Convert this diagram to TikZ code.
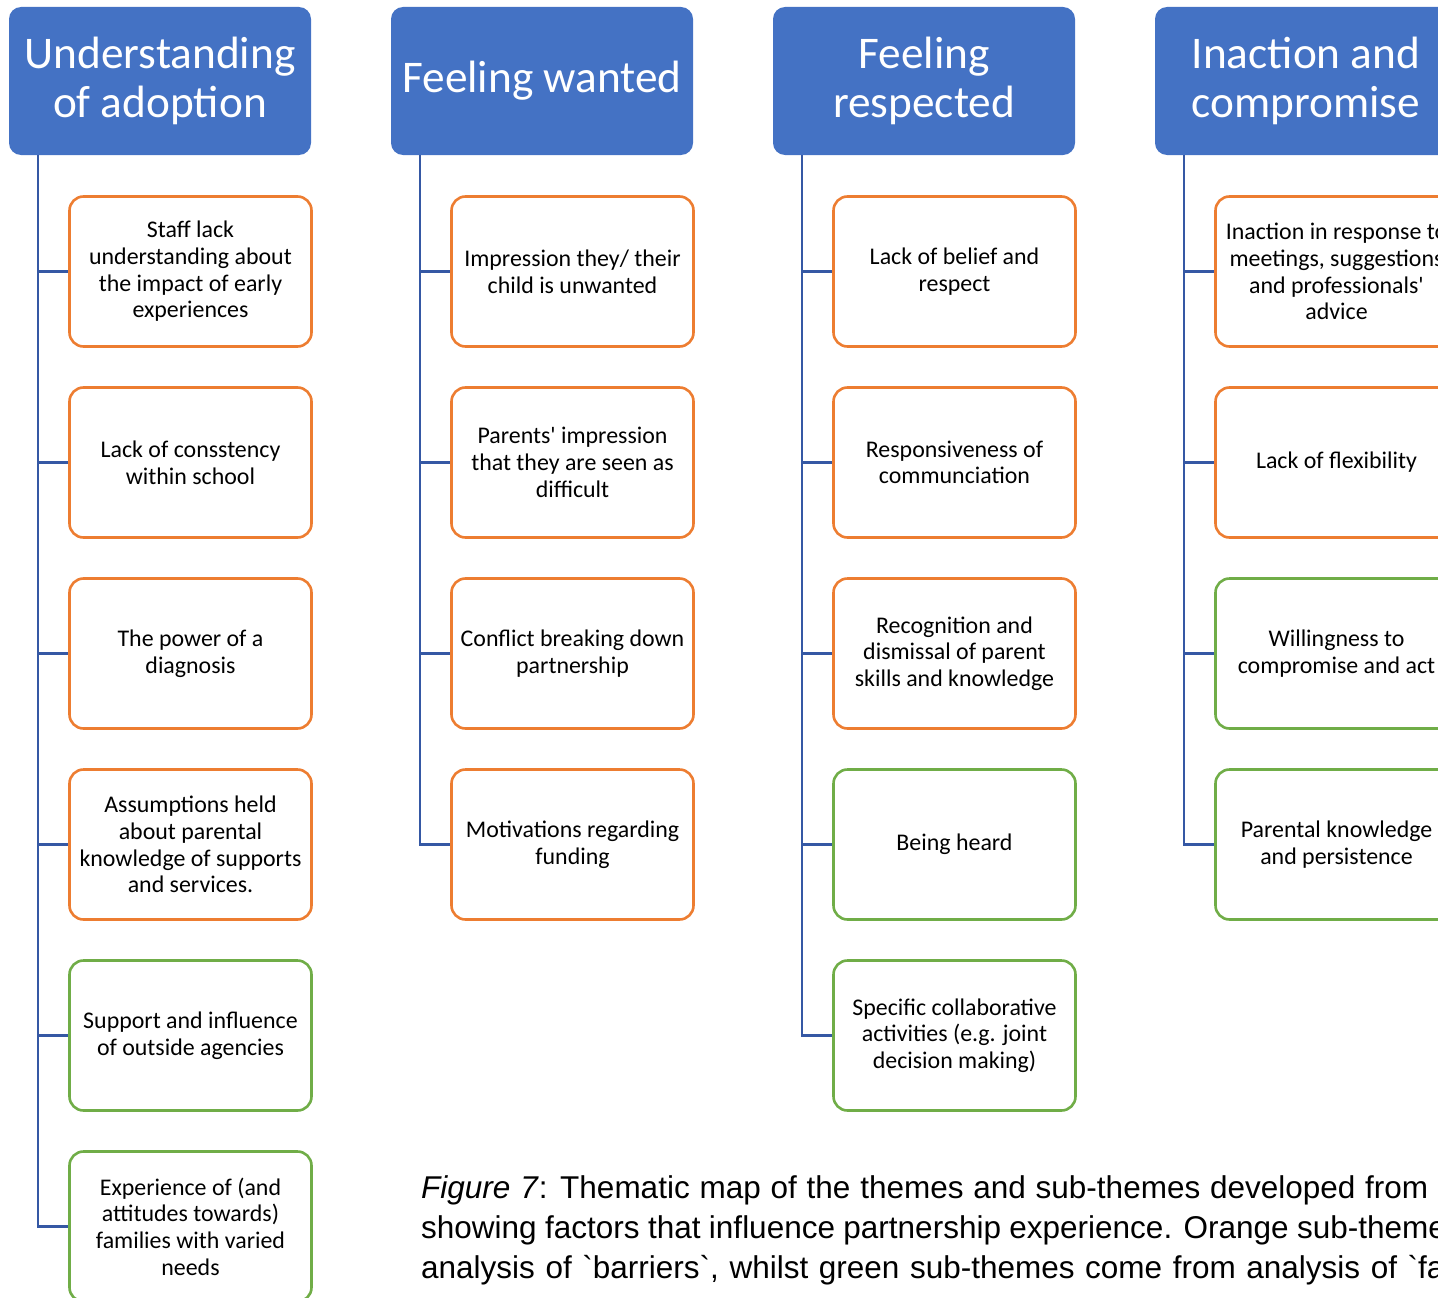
\documentclass[tikz,border=0pt]{standalone}
\usepackage{fontspec}
\newfontfamily\boxfont{Carlito}
\newfontfamily\capfont{Liberation Sans}
\definecolor{themeblue}{HTML}{4472C4}
\definecolor{barrierorange}{HTML}{ED7D31}
\definecolor{enablergreen}{HTML}{70AD47}
\definecolor{linkblue}{HTML}{3558A4}
\begin{document}
\begin{tikzpicture}[x=1pt,y=-1pt,
  theme/.style={fill=themeblue, rounded corners=12pt, minimum width=302pt,
    minimum height=148pt, text=white, align=center, inner sep=0pt,
    font=\boxfont\fontsize{45.3}{49.5}\selectfont},
  sub/.style={draw, line width=2.6pt, rounded corners=14pt, fill=white,
    minimum width=242pt, minimum height=150pt, align=center, inner sep=0pt,
    font=\boxfont\fontsize{23.9}{26.7}\selectfont},
  barrier/.style={sub, draw=barrierorange},
  enabler/.style={sub, draw=enablergreen},
  link/.style={draw=linkblue, line width=2.6pt},
]
\useasboundingbox (0,0) rectangle (1438,1298);
\clip (0,0) rectangle (1438,1298);

% theme headers
\node[theme] (h1) at (160,81) {Understanding\\of adoption};
\node[theme] (h2) at (542,81) {Feeling wanted};
\node[theme] (h3) at (924,81) {Feeling\\respected};
\node[theme] (h4) at (1306,81) {Inaction and\\compromise};

% trunk tops
\coordinate (t1) at (38,155);
\coordinate (t2) at (420,155);
\coordinate (t3) at (802,155);
\coordinate (t4) at (1184,155);

% Understanding of adoption
\node[barrier] (a1) at (190.5,271.5) {Staff lack\\understanding about\\the impact of early\\experiences};
\node[barrier] (a2) at (190.5,462.5) {Lack of consstency\\within school};
\node[barrier] (a3) at (190.5,653.5) {The power of a\\diagnosis};
\node[barrier] (a4) at (190.5,844.5) {Assumptions held\\about parental\\knowledge of supports\\and services.};
\node[enabler] (a5) at (190.5,1035.5) {Support and influence\\of outside agencies};
\node[enabler] (a6) at (190.5,1226.5) {Experience of (and\\attitudes towards)\\families with varied\\needs};

% Feeling wanted
\node[barrier] (b1) at (572.5,271.5) {Impression they/ their\\child is unwanted};
\node[barrier] (b2) at (572.5,462.5) {Parents' impression\\that they are seen as\\difficult};
\node[barrier] (b3) at (572.5,653.5) {Conflict breaking down\\partnership};
\node[barrier] (b4) at (572.5,844.5) {Motivations regarding\\funding};

% Feeling respected
\node[barrier] (c1) at (954.5,271.5) {Lack of belief and\\respect};
\node[barrier] (c2) at (954.5,462.5) {Responsiveness of\\communciation};
\node[barrier] (c3) at (954.5,653.5) {Recognition and\\dismissal of parent\\skills and knowledge};
\node[enabler] (c4) at (954.5,844.5) {Being heard};
\node[enabler] (c5) at (954.5,1035.5) {Specific collaborative\\activities (e.g. joint\\decision making)};

% Inaction and compromise
\node[barrier] (d1) at (1336.5,271.5) {Inaction in response to\\meetings, suggestions\\and professionals'\\advice};
\node[barrier] (d2) at (1336.5,462.5) {Lack of flexibility};
\node[enabler] (d3) at (1336.5,653.5) {Willingness to\\compromise and act};
\node[enabler] (d4) at (1336.5,844.5) {Parental knowledge\\and persistence};

% connectors
\foreach \s in {a1,a2,a3,a4,a5,a6} \draw[link] (t1) |- (\s.west);
\foreach \s in {b1,b2,b3,b4} \draw[link] (t2) |- (\s.west);
\foreach \s in {c1,c2,c3,c4,c5} \draw[link] (t3) |- (\s.west);
\foreach \s in {d1,d2,d3,d4} \draw[link] (t4) |- (\s.west);

% caption (justified paragraph, so each line has its own word spacing)
\node[anchor=north west, align=left, inner sep=0pt,
  font=\capfont\fontsize{31.5}{40}\selectfont] (cap) at (421,1175)
  {{\spaceskip=9.8pt \textit{Figure 7}: Thematic map of the themes and sub-themes developed from}\\
   {\spaceskip=8.4pt showing factors that influence partnership experience. Orange sub-themes}\\
   {\spaceskip=10.6pt analysis of \textasciigrave barriers\textasciigrave, whilst green sub-themes come from analysis of \textasciigrave facilitators\textasciigrave}};
\end{tikzpicture}
\end{document}
